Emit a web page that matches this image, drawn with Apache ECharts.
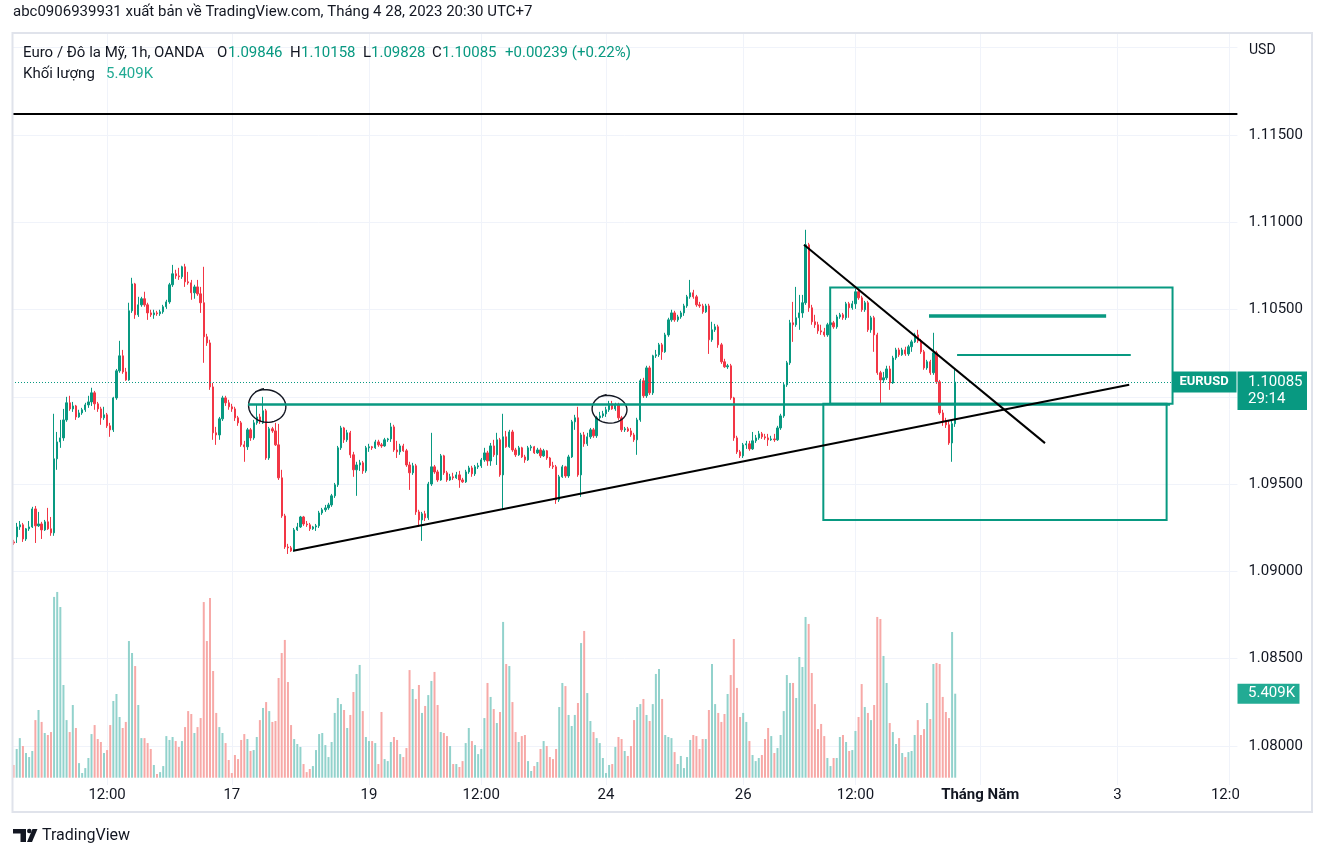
<!DOCTYPE html>
<html><head><meta charset="utf-8">
<script src="https://cdn.jsdelivr.net/npm/echarts@6/dist/echarts.min.js"></script>
<style>html,body{margin:0;padding:0;background:#fff}#c{width:1325px;height:857px}</style>
</head><body><div id="c"></div>
<script>
// ---------------- DATA (EURUSD 1h, OANDA) ----------------
const opens = [1.09169,1.09198,1.09255,1.09267,1.09186,1.09244,1.09255,1.09358,1.09261,1.09272,
1.09238,1.09284,1.09244,1.09221,1.09645,1.09742,1.09765,1.09868,1.09966,1.09931,
1.09948,1.09885,1.09908,1.09926,1.09954,1.09971,1.10023,1.09960,1.09931,1.09880,
1.09897,1.09834,1.09811,1.09994,1.10149,1.10235,1.10143,1.10097,1.10493,1.10647,
1.10470,1.10527,1.10562,1.10527,1.10481,1.10470,1.10481,1.10476,1.10487,1.10516,
1.10544,1.10642,1.10705,1.10693,1.10688,1.10745,1.10659,1.10653,1.10596,1.10630,
1.10590,1.10539,1.10344,1.10309,1.10057,1.09794,1.09782,1.09874,1.09994,1.09966,
1.09943,1.09931,1.09880,1.09851,1.09725,1.09714,1.09811,1.09765,1.09851,1.09885,
1.09851,1.09920,1.09650,1.09817,1.09805,1.09725,1.09536,1.09318,1.09140,1.09135,
1.09118,1.09238,1.09255,1.09312,1.09272,1.09267,1.09244,1.09255,1.09261,1.09335,
1.09353,1.09364,1.09381,1.09433,1.09496,1.09708,1.09822,1.09754,1.09794,1.09668,
1.09582,1.09610,1.09622,1.09576,1.09708,1.09714,1.09708,1.09742,1.09725,1.09719,
1.09754,1.09759,1.09828,1.09696,1.09685,1.09719,1.09691,1.09610,1.09565,1.09605,
1.09341,1.09295,1.09330,1.09307,1.09501,1.09599,1.09570,1.09524,1.09662,1.09565,
1.09524,1.09542,1.09536,1.09553,1.09524,1.09513,1.09570,1.09593,1.09559,1.09599,
1.09605,1.09639,1.09679,1.09633,1.09719,1.09668,1.09754,1.09553,1.09771,1.09714,
1.09799,1.09696,1.09668,1.09708,1.09656,1.09639,1.09708,1.09714,1.09679,1.09696,
1.09662,1.09691,1.09650,1.09605,1.09599,1.09410,1.09542,1.09599,1.09547,1.09656,
1.09857,1.09880,1.09553,1.09782,1.09731,1.09771,1.09811,1.09777,1.09880,1.09891,
1.09903,1.09926,1.09960,1.09931,1.09954,1.09880,1.09811,1.09817,1.09805,1.09782,
1.09754,1.09868,1.10092,1.10006,1.10166,1.10023,1.10235,1.10241,1.10298,1.10258,
1.10355,1.10441,1.10481,1.10441,1.10458,1.10481,1.10521,1.10573,1.10596,1.10573,
1.10527,1.10521,1.10487,1.10521,1.10327,1.10384,1.10401,1.10298,1.10201,1.10172,
1.10178,1.09994,1.09765,1.09685,1.09662,1.09725,1.09731,1.09702,1.09748,1.09765,
1.09788,1.09771,1.09765,1.09754,1.09759,1.09754,1.09822,1.09891,1.10069,1.10195,
1.10424,1.10413,1.10453,1.10481,1.10539,1.10871,1.10510,1.10430,1.10413,1.10378,
1.10372,1.10355,1.10413,1.10424,1.10401,1.10458,1.10470,1.10453,1.10533,1.10510,
1.10533,1.10602,1.10567,1.10499,1.10539,1.10384,1.10453,1.10355,1.10138,1.10097,
1.10109,1.10160,1.10080,1.10223,1.10269,1.10241,1.10269,1.10246,1.10287,1.10315,
1.10355,1.10321,1.10258,1.10166,1.10201,1.10138,1.10252,1.10086,1.09908,1.09857,
1.09840,1.09736,1.09846];

const closes = [1.09163,1.09255,1.09267,1.09186,1.09244,1.09255,1.09358,1.09261,1.09272,1.09238,
1.09284,1.09244,1.09221,1.09645,1.09742,1.09765,1.09868,1.09966,1.09931,1.09948,
1.09885,1.09908,1.09926,1.09954,1.09971,1.10023,1.09960,1.09931,1.09880,1.09897,
1.09834,1.09811,1.09994,1.10149,1.10235,1.10143,1.10097,1.10493,1.10647,1.10470,
1.10527,1.10562,1.10527,1.10481,1.10470,1.10481,1.10476,1.10487,1.10516,1.10544,
1.10642,1.10705,1.10693,1.10688,1.10745,1.10659,1.10653,1.10596,1.10630,1.10590,
1.10539,1.10344,1.10309,1.10057,1.09794,1.09782,1.09874,1.09994,1.09966,1.09943,
1.09931,1.09880,1.09851,1.09725,1.09714,1.09811,1.09765,1.09851,1.09885,1.09857,
1.09920,1.09650,1.09817,1.09805,1.09725,1.09536,1.09318,1.09140,1.09135,1.09118,
1.09238,1.09255,1.09312,1.09272,1.09267,1.09244,1.09255,1.09261,1.09335,1.09353,
1.09364,1.09381,1.09433,1.09496,1.09708,1.09822,1.09754,1.09794,1.09668,1.09582,
1.09610,1.09622,1.09576,1.09708,1.09714,1.09708,1.09742,1.09725,1.09719,1.09754,
1.09759,1.09828,1.09696,1.09685,1.09719,1.09691,1.09610,1.09565,1.09605,1.09341,
1.09295,1.09330,1.09307,1.09501,1.09599,1.09570,1.09524,1.09662,1.09565,1.09524,
1.09542,1.09536,1.09553,1.09524,1.09513,1.09570,1.09593,1.09559,1.09599,1.09605,
1.09639,1.09679,1.09633,1.09719,1.09668,1.09754,1.09553,1.09771,1.09714,1.09799,
1.09696,1.09668,1.09708,1.09656,1.09639,1.09708,1.09714,1.09679,1.09696,1.09662,
1.09691,1.09650,1.09605,1.09599,1.09410,1.09542,1.09599,1.09547,1.09656,1.09857,
1.09880,1.09553,1.09782,1.09731,1.09771,1.09811,1.09777,1.09880,1.09891,1.09903,
1.09926,1.09960,1.09931,1.09954,1.09880,1.09811,1.09817,1.09805,1.09782,1.09754,
1.09868,1.10092,1.10006,1.10166,1.10023,1.10235,1.10241,1.10298,1.10258,1.10355,
1.10441,1.10481,1.10441,1.10458,1.10481,1.10521,1.10573,1.10596,1.10573,1.10527,
1.10521,1.10487,1.10521,1.10327,1.10384,1.10401,1.10298,1.10201,1.10172,1.10178,
1.09994,1.09765,1.09685,1.09662,1.09725,1.09731,1.09702,1.09748,1.09765,1.09788,
1.09771,1.09765,1.09754,1.09759,1.09754,1.09822,1.09891,1.10069,1.10195,1.10424,
1.10413,1.10453,1.10481,1.10539,1.10871,1.10510,1.10430,1.10413,1.10378,1.10372,
1.10355,1.10413,1.10424,1.10401,1.10458,1.10470,1.10453,1.10533,1.10510,1.10533,
1.10602,1.10567,1.10499,1.10539,1.10384,1.10453,1.10355,1.10138,1.10097,1.10109,
1.10160,1.10080,1.10223,1.10269,1.10241,1.10269,1.10246,1.10287,1.10315,1.10355,
1.10321,1.10258,1.10166,1.10201,1.10138,1.10252,1.10086,1.09908,1.09857,1.09840,
1.09736,1.09846,1.10085];

const lows = [1.09152,1.09163,1.09238,1.09169,1.09175,1.09232,1.09249,1.09163,1.09255,1.09186,
1.09232,1.09238,1.09204,1.09204,1.09582,1.09708,1.09748,1.09857,1.09920,1.09914,
1.09868,1.09880,1.09897,1.09914,1.09937,1.09948,1.09926,1.09914,1.09840,1.09868,
1.09822,1.09771,1.09799,1.09983,1.10138,1.10132,1.10092,1.10092,1.10481,1.10447,
1.10458,1.10516,1.10516,1.10441,1.10458,1.10447,1.10464,1.10464,1.10476,1.10504,
1.10533,1.10630,1.10676,1.10670,1.10676,1.10630,1.10642,1.10556,1.10562,1.10579,
1.10481,1.10195,1.10292,1.10040,1.09754,1.09725,1.09754,1.09862,1.09948,1.09926,
1.09914,1.09862,1.09834,1.09714,1.09628,1.09696,1.09748,1.09754,1.09840,1.09845,
1.09845,1.09639,1.09639,1.09794,1.09719,1.09524,1.09307,1.09129,1.09100,1.09112,
1.09112,1.09232,1.09249,1.09261,1.09255,1.09232,1.09238,1.09232,1.09249,1.09324,
1.09341,1.09353,1.09370,1.09421,1.09484,1.09696,1.09736,1.09742,1.09650,1.09542,
1.09433,1.09576,1.09559,1.09565,1.09685,1.09696,1.09702,1.09714,1.09708,1.09714,
1.09742,1.09742,1.09685,1.09650,1.09668,1.09685,1.09599,1.09467,1.09553,1.09324,
1.09255,1.09175,1.09289,1.09295,1.09490,1.09559,1.09513,1.09519,1.09553,1.09513,
1.09519,1.09524,1.09530,1.09479,1.09507,1.09507,1.09559,1.09542,1.09547,1.09587,
1.09593,1.09628,1.09605,1.09605,1.09656,1.09610,1.09542,1.09353,1.09708,1.09708,
1.09685,1.09656,1.09662,1.09650,1.09622,1.09633,1.09691,1.09673,1.09673,1.09650,
1.09656,1.09639,1.09593,1.09587,1.09387,1.09398,1.09536,1.09536,1.09536,1.09650,
1.09811,1.09542,1.09427,1.09714,1.09719,1.09759,1.09765,1.09765,1.09868,1.09880,
1.09885,1.09914,1.09926,1.09920,1.09868,1.09799,1.09799,1.09799,1.09771,1.09742,
1.09668,1.09857,1.09994,1.09994,1.10011,1.10011,1.10223,1.10229,1.10212,1.10252,
1.10344,1.10430,1.10430,1.10430,1.10447,1.10464,1.10510,1.10562,1.10562,1.10516,
1.10510,1.10476,1.10481,1.10246,1.10315,1.10372,1.10281,1.10189,1.10166,1.10160,
1.09983,1.09748,1.09673,1.09650,1.09650,1.09702,1.09691,1.09696,1.09736,1.09754,
1.09759,1.09754,1.09719,1.09748,1.09742,1.09748,1.09811,1.09880,1.10057,1.10183,
1.10315,1.10401,1.10384,1.10453,1.10527,1.10487,1.10413,1.10395,1.10361,1.10355,
1.10344,1.10344,1.10395,1.10390,1.10390,1.10447,1.10441,1.10441,1.10453,1.10499,
1.10504,1.10556,1.10487,1.10487,1.10372,1.10367,1.10258,1.10126,1.09954,1.10080,
1.10097,1.10040,1.10074,1.10212,1.10229,1.10235,1.10235,1.10235,1.10258,1.10309,
1.10309,1.10246,1.10155,1.10155,1.10126,1.10126,1.10074,1.09897,1.09834,1.09822,
1.09725,1.09628,1.09828];

const highs = [1.09181,1.09278,1.09289,1.09278,1.09249,1.09289,1.09370,1.09375,1.09341,1.09284,
1.09295,1.09364,1.09312,1.09903,1.09799,1.09868,1.09931,1.10000,1.10006,1.09971,
1.09954,1.09926,1.09937,1.09966,1.10006,1.10052,1.10034,1.09971,1.09943,1.09943,
1.09908,1.09851,1.10000,1.10160,1.10321,1.10269,1.10166,1.10539,1.10682,1.10653,
1.10573,1.10573,1.10602,1.10539,1.10499,1.10499,1.10493,1.10499,1.10527,1.10556,
1.10653,1.10756,1.10728,1.10739,1.10751,1.10762,1.10716,1.10670,1.10642,1.10670,
1.10630,1.10745,1.10361,1.10327,1.10080,1.09828,1.09885,1.10006,1.10006,1.09983,
1.09960,1.09943,1.09891,1.09862,1.09748,1.09822,1.09822,1.09868,1.09954,1.09903,
1.10000,1.09931,1.09828,1.09828,1.09851,1.09845,1.09582,1.09330,1.09158,1.09146,
1.09249,1.09278,1.09318,1.09318,1.09289,1.09278,1.09261,1.09272,1.09347,1.09364,
1.09381,1.09393,1.09444,1.09507,1.09719,1.09834,1.09828,1.09811,1.09805,1.09685,
1.09628,1.09639,1.09633,1.09719,1.09731,1.09719,1.09754,1.09754,1.09736,1.09765,
1.09765,1.09851,1.09840,1.09748,1.09731,1.09731,1.09702,1.09628,1.09622,1.09616,
1.09353,1.09341,1.09347,1.09513,1.09794,1.09610,1.09582,1.09673,1.09668,1.09576,
1.09559,1.09565,1.09570,1.09576,1.09536,1.09582,1.09605,1.09605,1.09610,1.09622,
1.09650,1.09708,1.09691,1.09736,1.09754,1.09794,1.09765,1.09903,1.09805,1.09811,
1.09811,1.09708,1.09719,1.09714,1.09668,1.09719,1.09725,1.09719,1.09708,1.09708,
1.09702,1.09696,1.09656,1.09628,1.09610,1.09553,1.09610,1.09605,1.09668,1.09868,
1.09897,1.09943,1.09794,1.09799,1.09794,1.09822,1.09822,1.09891,1.09914,1.09920,
1.09943,1.09977,1.09977,1.09966,1.09966,1.09891,1.09828,1.09828,1.09822,1.09794,
1.09880,1.10103,1.10109,1.10178,1.10178,1.10241,1.10269,1.10309,1.10309,1.10367,
1.10453,1.10499,1.10493,1.10470,1.10493,1.10533,1.10584,1.10670,1.10613,1.10584,
1.10544,1.10533,1.10533,1.10533,1.10430,1.10418,1.10413,1.10309,1.10218,1.10189,
1.10189,1.10000,1.09777,1.09696,1.09736,1.09748,1.09748,1.09799,1.09782,1.09805,
1.09799,1.09788,1.09788,1.09777,1.09788,1.09834,1.09903,1.10080,1.10206,1.10441,
1.10544,1.10630,1.10584,1.10584,1.10957,1.10882,1.10527,1.10470,1.10430,1.10413,
1.10395,1.10424,1.10435,1.10435,1.10470,1.10481,1.10481,1.10544,1.10544,1.10550,
1.10619,1.10619,1.10579,1.10550,1.10550,1.10464,1.10464,1.10367,1.10149,1.10143,
1.10178,1.10178,1.10235,1.10281,1.10281,1.10281,1.10287,1.10298,1.10327,1.10367,
1.10384,1.10332,1.10269,1.10212,1.10212,1.10367,1.10264,1.10097,1.09926,1.09880,
1.09862,1.09862,1.10158];

// volume in thousands
const volumes = [0.82,1.85,2.55,2.04,1.59,1.33,1.72,3.71,4.36,3.59,
2.88,2.75,2.94,11.64,11.96,10.99,5.97,3.71,2.94,4.68,
3.20,0.94,0.30,0.62,1.27,2.81,3.39,2.49,2.30,1.59,
1.78,3.39,4.94,5.39,3.91,3.20,3.59,8.80,8.03,7.19,
4.68,2.55,2.55,2.23,1.85,0.82,0.24,0.36,0.75,2.68,
2.43,2.62,2.36,1.98,2.36,3.26,4.29,4.10,2.88,3.26,
3.84,11.31,8.80,11.57,6.87,4.17,3.26,2.88,2.23,1.14,
0.30,1.46,1.20,2.43,2.81,2.49,1.72,1.78,2.62,3.71,
4.49,4.87,4.29,3.59,3.65,6.42,8.03,8.87,6.16,3.39,
2.49,2.17,1.98,0.88,0.36,0.56,0.75,1.78,2.81,2.88,
2.10,1.33,2.30,4.17,5.13,4.74,4.36,3.20,4.04,5.52,
6.68,7.26,4.29,2.62,2.36,2.36,2.23,0.88,4.23,1.20,
1.07,2.30,2.62,2.43,1.52,1.33,1.91,6.93,5.71,5.07,
5.97,4.17,4.62,5.32,6.23,6.81,4.68,2.94,2.88,2.68,
2.04,0.88,0.88,0.69,1.07,2.23,3.20,2.36,2.10,1.52,
1.85,3.84,6.10,5.20,4.42,3.52,4.23,10.03,7.32,7.19,
4.87,2.94,2.30,2.68,2.75,1.07,0.43,0.75,1.01,1.85,
2.36,2.04,1.33,1.20,1.85,4.55,6.10,5.90,4.04,3.33,
4.04,4.81,8.67,9.45,5.45,3.65,2.94,2.55,2.23,1.27,
0.30,0.82,0.88,1.98,2.62,2.49,1.72,1.40,2.04,3.71,
4.55,4.74,5.07,4.04,3.65,4.74,6.68,7.00,5.07,2.75,
2.62,2.55,1.65,0.88,1.40,0.62,1.33,2.43,2.75,2.68,
1.85,2.49,2.49,4.36,7.32,4.74,4.17,3.59,4.10,5.39,
6.61,8.93,5.78,3.91,4.17,3.59,2.36,1.46,1.07,1.27,
1.46,2.49,3.20,2.68,1.59,1.91,2.75,4.29,6.61,6.10,
6.10,5.13,7.77,7.13,10.35,9.90,6.74,4.74,3.13,3.46,
2.68,1.27,0.75,1.27,1.27,2.62,2.75,2.30,1.72,1.78,
3.01,3.91,6.03,4.55,4.17,3.71,4.68,10.35,10.22,7.84,
6.10,3.52,2.94,2.17,2.55,1.59,1.33,1.65,1.72,2.75,
3.71,2.75,3.13,4.81,3.78,7.32,7.39,7.32,5.20,4.23,
3.84,9.38,5.409];

// time-axis tick labels (bar slot index -> text)
const tickIdx  = [30, 70, 114, 150, 190, 234, 270, 310, 354, 390];
const tickText = ['12:00','17','19','12:00','24','26','12:00','Tháng Năm','3','12:00'];
const tickBold = [false,false,false,false,false,false,false,true,false,false];

// price-axis ticks
const priceMin = 1.0775, priceMax = 1.1225, priceStep = 0.0025;

// last bar info
const lastPrice = 1.10085;
const lastVolume = 5.409;
const legendOHLC = ['1.09846','1.10158','1.09828','1.10085'];
const legendChange = '+0.00239 (+0.22%)';

// drawings (x = bar slot index, y = price)
const hLineBlack = [[-0.5, 1.11623], [392.5, 1.11623]];
const levelGreen = [[75.2, 1.09958], [370.9, 1.09958]];
const tpThick    = [[293.6, 1.10466], [350.4, 1.10466]];
const tpThin     = [[302.6, 1.10241], [358.3, 1.10241]];
const trendUp    = [[89.7, 1.09119], [357.8, 1.10069]];
const trendDown  = [[253.5, 1.10871], [330.8, 1.09735]];
const lastLine   = [[-0.5, lastPrice], [372.3, lastPrice]];
const boxes      = [[261.9, 1.10627, 371.7, 1.09960], [259.7, 1.09960, 369.8, 1.09295]];
const circles    = [[75.0, 1.10045, 87.3, 1.09858], [185.2, 1.10011, 196.7, 1.09853]];

// ---------------- CHART ----------------
const N_SLOTS = 393;
const cats = Array.from({length: N_SLOTS}, (_, i) => String(i));
const UP = '#089981', DOWN = '#f23645', VUP = '#92d2cc', VDOWN = '#f7a9a7';
const FONT = 'Roboto, "Noto Sans", sans-serif';
const candleData = opens.map((o, i) => [o, closes[i], lows[i], highs[i]]);
const volData = volumes.map((v, i) => ({value: v, itemStyle: {color: closes[i] >= opens[i] ? VUP : VDOWN}}));
const GL = 12, GR = 87.6;
const tickInterval = (idx) => tickIdx.indexOf(idx) >= 0;

const chart = echarts.init(document.getElementById('c'));
chart.setOption({
  animation: false,
  backgroundColor: '#ffffff',
  grid: [
    {left: GL, right: GR, top: 4.07, bottom: 67.36},
    {left: GL, right: GR, top: 575.8, bottom: 79.3},
    {left: GL, right: GR, top: 34, bottom: 72}
  ],
  xAxis: [
    {type: 'category', gridIndex: 0, data: cats, show: false},
    {type: 'category', gridIndex: 1, data: cats, show: false},
    {type: 'category', gridIndex: 2, data: cats,
      axisLine: {show: false}, axisTick: {show: false},
      axisLabel: {interval: tickInterval, margin: 3, color: '#131722', fontSize: 15, fontFamily: FONT,
        formatter: (v, idx) => { const k = tickIdx.indexOf(Number(v)); if (k < 0) return ''; return tickBold[k] ? '{b|' + tickText[k] + '}' : tickText[k]; },
        rich: {b: {fontWeight: 'bold', fontSize: 15, fontFamily: FONT, color: '#131722'}}},
      splitLine: {show: true, interval: tickInterval, alignWithLabel: true, lineStyle: {color: '#f0f3fa', width: 1}}},
    {type: 'value', gridIndex: 0, min: -0.5, max: N_SLOTS - 0.5, show: false}
  ],
  yAxis: [
    {type: 'value', gridIndex: 0, position: 'right', min: priceMin, max: priceMax, interval: priceStep, scale: true,
      axisLine: {show: false}, axisTick: {show: false},
      axisLabel: {margin: 11, color: '#131722', fontSize: 15, fontFamily: FONT,
        formatter: (v) => { const k = Math.round(v * 10000); if (k % 50 !== 0) return ''; if (k === 11000 || k === 11200) return ''; return v.toFixed(5); }},
      splitLine: {show: true, lineStyle: {color: ['rgba(0,0,0,0)', '#f0f3fa'], width: 1}}},
    {type: 'value', gridIndex: 1, min: 0, max: 13, show: false},
    {type: 'value', gridIndex: 2, show: false}
  ],
  series: [
    {type: 'bar', xAxisIndex: 1, yAxisIndex: 1, data: volData, barWidth: 2, z: 1, silent: true},
    {type: 'candlestick', xAxisIndex: 0, yAxisIndex: 0, data: candleData, barWidth: 1.8, z: 3, silent: true,
      itemStyle: {color: UP, color0: DOWN, borderColor: UP, borderColor0: DOWN, borderWidth: 1}},
    {type: 'custom', xAxisIndex: 3, yAxisIndex: 0, data: boxes, z: 5, silent: true,
      renderItem: (params, api) => {
        const a = api.coord([api.value(0), api.value(1)]), b = api.coord([api.value(2), api.value(3)]);
        return {type: 'rect', shape: {x: Math.min(a[0], b[0]), y: Math.min(a[1], b[1]), width: Math.abs(b[0] - a[0]), height: Math.abs(b[1] - a[1])},
          style: {fill: 'rgba(0,0,0,0)', stroke: UP, lineWidth: 2}};
      }},
    {type: 'custom', xAxisIndex: 3, yAxisIndex: 0, data: circles, z: 6, silent: true,
      renderItem: (params, api) => {
        const a = api.coord([api.value(0), api.value(1)]), b = api.coord([api.value(2), api.value(3)]);
        const cx = (a[0] + b[0]) / 2, cy = (a[1] + b[1]) / 2, rx = Math.abs(b[0] - a[0]) / 2, ry = Math.abs(b[1] - a[1]) / 2;
        const pts = [];
        for (let k = 0; k <= 52; k++) { const t = -2.2 + k * (2 * Math.PI + 0.5) / 52; const s = 1 + 0.06 * Math.sin(t * 1.5); pts.push([cx + rx * s * Math.cos(t), cy + ry * s * Math.sin(t)]); }
        return {type: 'polyline', shape: {points: pts}, style: {fill: null, stroke: '#131722', lineWidth: 1.4}};
      }},
    {type: 'lines', coordinateSystem: 'cartesian2d', xAxisIndex: 3, yAxisIndex: 0, z: 7, silent: true,
      lineStyle: {opacity: 1},
      data: [
        {coords: lastLine, lineStyle: {color: UP, width: 1, type: [1, 2]}},
        {coords: hLineBlack, lineStyle: {color: '#000000', width: 2}},
        {coords: levelGreen, lineStyle: {color: UP, width: 2.5}},
        {coords: tpThick, lineStyle: {color: UP, width: 3.5}},
        {coords: tpThin, lineStyle: {color: UP, width: 2}},
        {coords: trendUp, lineStyle: {color: '#000000', width: 2}},
        {coords: trendDown, lineStyle: {color: '#000000', width: 2}}
      ]}
  ]
});

const yLast = chart.convertToPixel({yAxisIndex: 0}, lastPrice);
const yVol = chart.convertToPixel({yAxisIndex: 1}, lastVolume);
const T = (x, y, text, font, fill, align) => ({type: 'text', z: 120, silent: true,
  style: {x: x, y: y, text: text, font: font, fill: fill, align: align || 'left', verticalAlign: 'middle', textAlign: align || 'left', textVerticalAlign: 'middle'}});
const f15 = '15px ' + FONT, f14 = '14px ' + FONT;
chart.setOption({graphic: [
  {type: 'rect', z: 90, silent: true, shape: {x: 1239, y: 786, width: 72, height: 24}, style: {fill: '#ffffff'}},
  {type: 'rect', z: 100, silent: true, shape: {x: 12.5, y: 33, width: 1299.5, height: 779}, style: {fill: 'rgba(0,0,0,0)', stroke: '#e0e3eb', lineWidth: 2}},
  T(13, 12, 'abc0906939931 xuất bản về TradingView.com, Tháng 4 28, 2023 20:30 UTC+7', f15, '#131722'),
  T(23, 53, 'Euro / Đô la Mỹ, 1h, OANDA', f15, '#131722'),
  T(217, 53, 'O', f15, '#131722'), T(228, 53, legendOHLC[0], f15, UP),
  T(290, 53, 'H', f15, '#131722'), T(301, 53, legendOHLC[1], f15, UP),
  T(363, 53, 'L', f15, '#131722'), T(371, 53, legendOHLC[2], f15, UP),
  T(432, 53, 'C', f15, '#131722'), T(442, 53, legendOHLC[3], f15, UP),
  T(505, 53, legendChange, f15, UP),
  T(23, 74, 'Khối lượng', f15, '#131722'), T(106, 74, '5.409K', f15, '#22ab94'),
  T(1249, 50, 'USD', f14, '#131722'),
  {type: 'rect', z: 110, silent: true, shape: {x: 1172, y: yLast - 10.5, width: 64.5, height: 21}, style: {fill: UP}},
  T(1204, yLast, 'EURUSD', 'bold 13px ' + FONT, '#ffffff', 'center'),
  {type: 'rect', z: 110, silent: true, shape: {x: 1237.5, y: yLast - 10.5, width: 69.5, height: 38.5}, style: {fill: UP}},
  T(1248, yLast, lastPrice.toFixed(5), f15, '#ffffff'),
  T(1248, yLast + 17, '29:14', f15, '#ffffff'),
  {type: 'rect', z: 110, silent: true, shape: {x: 1237.5, y: yVol - 10, width: 62, height: 20}, style: {fill: '#22ab94'}},
  T(1248, yVol, lastVolume.toFixed(3) + 'K', f15, '#ffffff'),
  {type: 'rect', z: 120, silent: true, shape: {x: 13, y: 829, width: 13, height: 4.5}, style: {fill: '#131722'}},
  {type: 'rect', z: 120, silent: true, shape: {x: 20.5, y: 829, width: 5.5, height: 13}, style: {fill: '#131722'}},
  {type: 'circle', z: 120, silent: true, shape: {cx: 29.3, cy: 831, r: 2.3}, style: {fill: '#131722'}},
  {type: 'polygon', z: 120, silent: true, shape: {points: [[32.5, 829], [37.5, 829], [32, 842], [27, 842]]}, style: {fill: '#131722'}},
  T(42, 836, 'TradingView', '16px ' + FONT, '#131722')
]});
</script>
</body></html>
